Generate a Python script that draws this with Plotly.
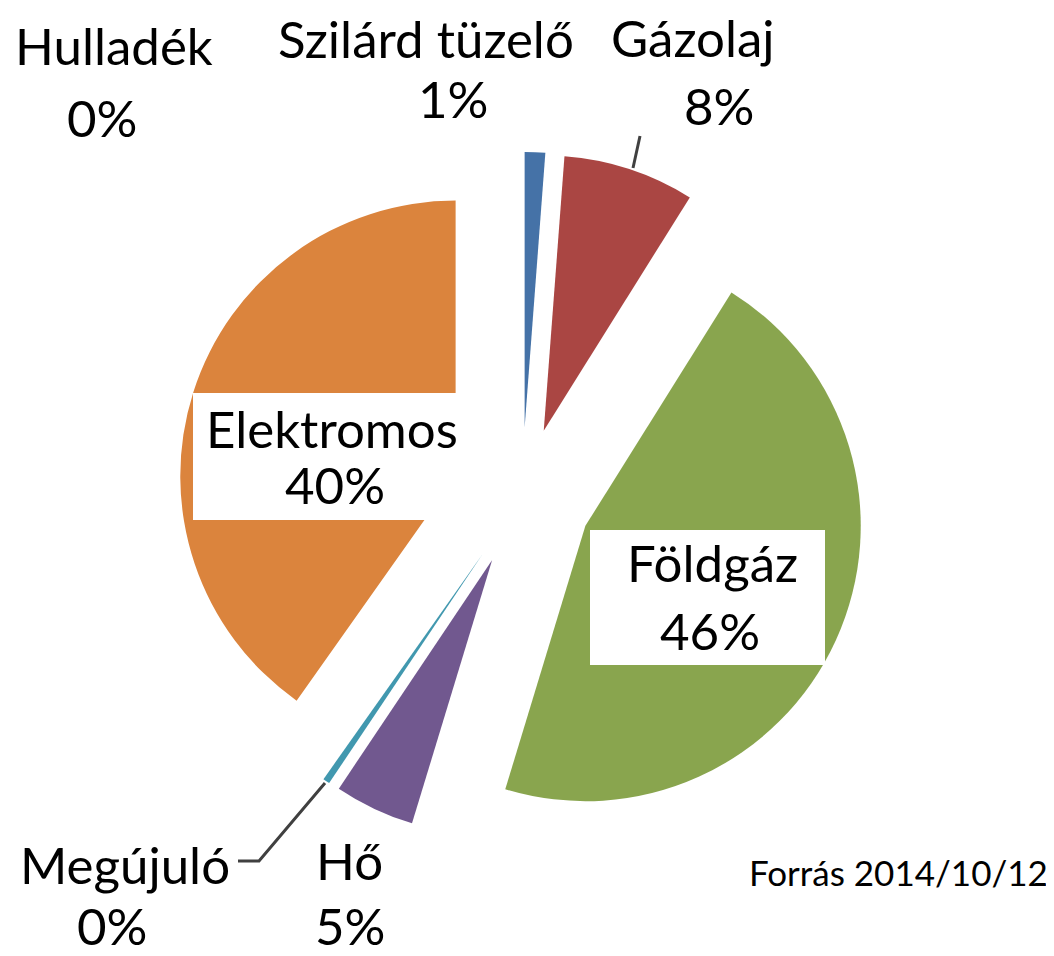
import plotly.graph_objects as go

# ---- data ----
categories = ["Szilárd tüzelő", "Gázolaj", "Földgáz", "Hő", "Megújuló", "Elektromos", "Hulladék"]
values = [1.2, 7.7, 45.8, 4.7, 0.4, 40.2, 0.0]
colors = ["#4572A7", "#AA4643", "#89A54E", "#71588F", "#4198AF", "#DB843D", "#93A9CF"]
pct_labels = [f"{round(v)}%" for v in values]
source_note = "Forrás 2014/10/12"

W, H = 1054, 956
FONT = "Lato"
OFF = 8  # page body margin shifts the figure by this much


def px(x):
    return (x - OFF) / W


def py(y):
    return 1 - (y - OFF) / H


CX, CY, HALF = 522, 497, 345

fig = go.Figure(
    go.Pie(
        labels=categories,
        values=values,
        sort=False,
        direction="clockwise",
        rotation=0,
        pull=[0.253] * len(values),
        marker=dict(colors=colors, line=dict(width=0)),
        textinfo="none",
        hoverinfo="label+percent",
        domain=dict(x=[px(CX - HALF), px(CX + HALF)], y=[py(CY + HALF), py(CY - HALF)]),
    )
)

# label placement (name centre, percent centre) in screen pixels
label_pos = {
    "Hulladék": ((114, 45), (102, 117)),
    "Szilárd tüzelő": ((426, 39), (453, 99)),
    "Gázolaj": ((693, 37), (719, 105)),
    "Elektromos": ((332, 428), (335, 484)),
    "Földgáz": ((712, 562), (710, 630)),
    "Megújuló": ((125, 864), (112, 925)),
    "Hő": ((349, 860), (350, 925)),
}

shapes = [
    # white label boxes
    dict(type="rect", xref="paper", yref="paper", x0=px(193), x1=px(470), y0=py(520), y1=py(393),
         fillcolor="white", line=dict(width=0), layer="above"),
    dict(type="rect", xref="paper", yref="paper", x0=px(590), x1=px(825), y0=py(665), y1=py(530),
         fillcolor="white", line=dict(width=0), layer="above"),
    # leader lines
    dict(type="line", xref="paper", yref="paper", x0=px(633), y0=py(168), x1=px(640), y1=py(136),
         line=dict(color="#404040", width=3), layer="above"),
    dict(type="path", xref="paper", yref="paper",
         path=f"M {px(325)},{py(783)} L {px(259)},{py(861)} L {px(238)},{py(861)}",
         line=dict(color="#404040", width=3), layer="above"),
]

annotations = []
for cat, pct in zip(categories, pct_labels):
    (nx, ny), (qx, qy) = label_pos[cat]
    annotations.append(dict(x=px(nx), y=py(ny), xref="paper", yref="paper", text=cat,
                            showarrow=False, xanchor="center", yanchor="middle",
                            font=dict(family=FONT, size=51, color="black")))
    annotations.append(dict(x=px(qx), y=py(qy), xref="paper", yref="paper", text=pct,
                            showarrow=False, xanchor="center", yanchor="middle",
                            font=dict(family=FONT, size=51, color="black")))

annotations.append(dict(x=px(1050), y=py(872), xref="paper", yref="paper", text=source_note,
                        showarrow=False, xanchor="right", yanchor="middle",
                        font=dict(family=FONT, size=35, color="black")))

fig.update_layout(
    width=W, height=H,
    margin=dict(l=0, r=0, t=0, b=0),
    paper_bgcolor="white", plot_bgcolor="white",
    showlegend=False,
    shapes=shapes,
    annotations=annotations,
)

fig.write_html("out.html")
